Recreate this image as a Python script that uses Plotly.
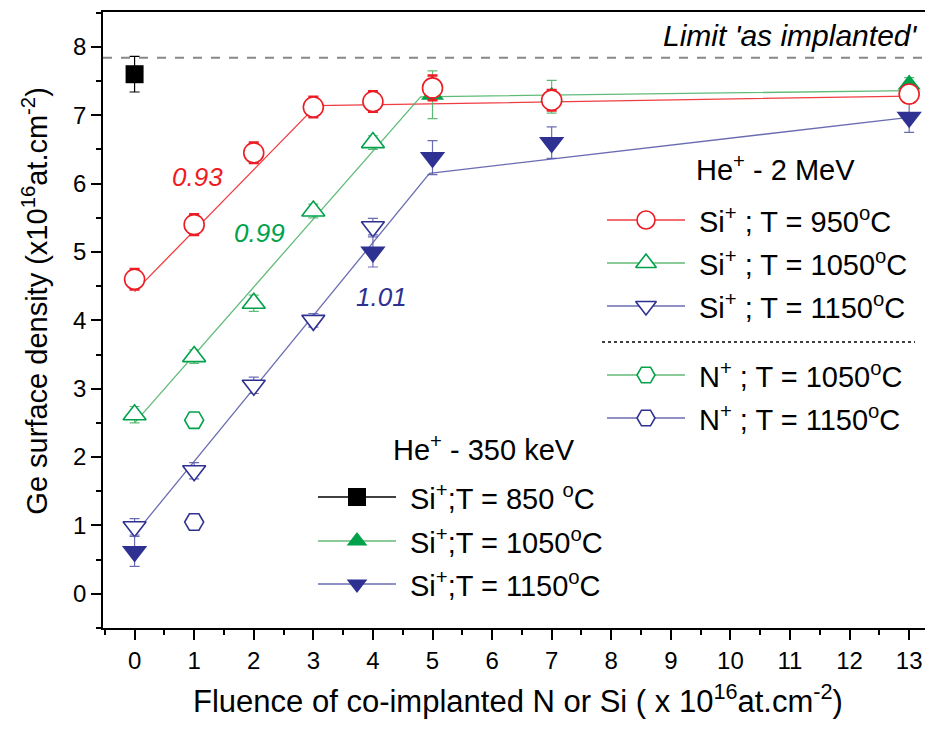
import plotly.graph_objects as go

RED = '#ED1C24'
GREEN = '#00A14B'
BLUE = '#2E3192'
RED_LINE = 'rgba(237, 40, 45, 0.9)'
GREEN_LINE = 'rgba(80, 180, 105, 0.9)'
BLUE_LINE = 'rgba(90, 92, 170, 0.9)'
FONT = 'Liberation Sans, Arial, sans-serif'

# He+ 2 MeV series
x_si950 = [0, 1, 2, 3, 4, 5, 7, 13]
y_si950 = [4.6, 5.4, 6.45, 7.12, 7.2, 7.4, 7.22, 7.31]
e_si950 = [0.15, 0.15, 0.15, 0.15, 0.15, 0.18, 0.15, 0.12]

x_si1050 = [0, 1, 2, 3, 4]
y_si1050 = [2.62, 3.47, 4.25, 5.6, 6.6]
e_si1050 = [0.12, 0.1, 0.12, 0.1, 0.1]

x_si1150 = [0, 1, 2, 3, 4]
y_si1150 = [0.98, 1.8, 3.05, 4.0, 5.37]
e_si1150 = [0.12, 0.12, 0.12, 0.1, 0.12]

x_n1050 = [1]
y_n1050 = [2.54]
x_n1150 = [1]
y_n1150 = [1.05]

# He+ 350 keV series
x_k850 = [0]
y_k850 = [7.6]
e_k850 = [0.26]

x_k1050 = [5, 7, 13]
y_k1050 = [7.3, 7.27, 7.45]
e_k1050 = [0.35, 0.24, 0.1]

x_k1150 = [0, 4, 5, 7, 13]
y_k1150 = [0.62, 5.0, 6.38, 6.6, 6.97]
e_k1150 = [0.22, 0.22, 0.25, 0.23, 0.22]

# linear fits drawn through the data
fit_red_x = [0, 3.05, 13]
fit_red_y = [4.42, 7.14, 7.28]
fit_green_x = [0, 4.8, 13]
fit_green_y = [2.5, 7.27, 7.36]
fit_blue_x = [0, 4.95, 13]
fit_blue_y = [0.87, 6.15, 6.97]

slope_labels = ['0.93', '0.99', '1.01']
slope_x = [1.05, 2.1, 4.15]
slope_y = [6.09, 5.28, 4.34]

LIMIT = 7.84
x_ticks = list(range(0, 14))
y_ticks = list(range(0, 9))

fig = go.Figure()

for fx, fy, c in [(fit_red_x, fit_red_y, RED_LINE),
                  (fit_green_x, fit_green_y, GREEN_LINE),
                  (fit_blue_x, fit_blue_y, BLUE_LINE)]:
    fig.add_trace(go.Scatter(x=fx, y=fy, mode='lines',
                             line=dict(color=c, width=1.3), hoverinfo='skip'))


def points(x, y, err, color, symbol, filled, size, ecolor=None, ethick=1.2):
    return go.Scatter(
        x=x, y=y, mode='markers',
        error_y=dict(type='data', array=err, visible=err is not None,
                     color=ecolor or color, thickness=ethick, width=5),
        marker=dict(symbol=symbol, size=size,
                    color=color if filled else 'white',
                    line=dict(color=color, width=1.6 if not filled else 0)),
    )


fig.add_trace(points(x_k850, y_k850, e_k850, 'black', 'square', True, 18))
fig.add_trace(points(x_n1050, y_n1050, None, GREEN, 'hexagon2', False, 19))
fig.add_trace(points(x_n1150, y_n1150, None, BLUE, 'hexagon2', False, 19))
fig.add_trace(points(x_k1050, y_k1050, e_k1050, GREEN, 'triangle-up', True, 20, GREEN_LINE))
fig.add_trace(points(x_si1050, y_si1050, e_si1050, GREEN, 'triangle-up', False, 20, GREEN_LINE))
fig.add_trace(points(x_si1150, y_si1150, e_si1150, BLUE, 'triangle-down', False, 20, BLUE_LINE))
fig.add_trace(points(x_k1150, y_k1150, e_k1150, BLUE, 'triangle-down', True, 22, BLUE_LINE))
fig.add_trace(points(x_si950, y_si950, e_si950, RED, 'circle', False, 20, RED, 2.5))

# legends drawn on a page-pixel overlay axis (x2/y2)
legend_2mev = [
    ('Si<sup>+</sup> ; T = 950<sup>o</sup>C', RED, RED_LINE, 'circle', False),
    ('Si<sup>+</sup> ; T = 1050<sup>o</sup>C', GREEN, GREEN_LINE, 'triangle-up', False),
    ('Si<sup>+</sup> ; T = 1150<sup>o</sup>C', BLUE, BLUE_LINE, 'triangle-down', False),
    ('N<sup>+</sup> ; T = 1050<sup>o</sup>C', GREEN, GREEN_LINE, 'hexagon2', False),
    ('N<sup>+</sup> ; T = 1150<sup>o</sup>C', BLUE, BLUE_LINE, 'hexagon2', False),
]
legend_350 = [
    ('Si<sup>+</sup>;T = 850 <sup>o</sup>C', 'black', 'black', 'square', True),
    ('Si<sup>+</sup>;T = 1050<sup>o</sup>C', GREEN, GREEN_LINE, 'triangle-up', True),
    ('Si<sup>+</sup>;T = 1150<sup>o</sup>C', BLUE, BLUE_LINE, 'triangle-down', True),
]


def draw_legend(entries, x0, rows, title, title_x, title_y):
    fig.add_annotation(x=title_x, y=title_y, xref='x2', yref='y2', text=title,
                       showarrow=False, font=dict(size=29, color='black'))
    for (label, mc, lc, sym, filled), ry in zip(entries, rows):
        fig.add_trace(go.Scatter(x=[x0, x0 + 78], y=[ry, ry], xaxis='x2', yaxis='y2',
                                 mode='lines', line=dict(color=lc, width=1.5),
                                 hoverinfo='skip'))
        fig.add_trace(go.Scatter(x=[x0 + 39], y=[ry], xaxis='x2', yaxis='y2',
                                 mode='markers', hoverinfo='skip',
                                 marker=dict(symbol=sym, size=18,
                                             color=mc if filled else 'white',
                                             line=dict(color=mc, width=0 if filled else 1.6))))
        fig.add_annotation(x=x0 + 90, y=ry, xref='x2', yref='y2', text=label,
                           xanchor='left', showarrow=False,
                           font=dict(size=29, color='black'))


draw_legend(legend_2mev, 607, [220, 263, 306, 375, 418], 'He<sup>+</sup> - 2 MeV', 775, 168)
draw_legend(legend_350, 318, [497, 541, 584], 'He<sup>+</sup> - 350 keV', 484, 448)
fig.add_shape(type='line', xref='x2', yref='y2', x0=602, x1=915, y0=342, y1=342,
              line=dict(color='black', width=1.5, dash='dot'))

# limit line
fig.add_shape(type='line', xref='paper', yref='y', x0=0, x1=1, y0=LIMIT, y1=LIMIT,
              line=dict(color='#888888', width=2, dash='dash'))
fig.add_annotation(x=790, y=35, xref='x2', yref='y2',
                   text="<i>Limit 'as implanted'</i>", showarrow=False,
                   font=dict(size=30, color='black'))

for txt, sx, sy, c in zip(slope_labels, slope_x, slope_y, [RED, GREEN, BLUE]):
    fig.add_annotation(x=sx, y=sy, text='<i>' + txt + '</i>', showarrow=False,
                       font=dict(size=26, color=c))

# y title placed as a paper annotation (sits above the plot centre in the reference)
fig.add_annotation(x=-0.083, y=0.53, xref='paper', yref='paper', textangle=-90,
                   xanchor='center', yanchor='middle', showarrow=False,
                   text='Ge surface density (x10<sup>16</sup>at.cm<sup>-2</sup>)',
                   font=dict(size=29, color='black'))

axis_common = dict(showgrid=False, zeroline=False, showline=True, linecolor='black',
                   linewidth=1.5, ticks='outside', tickcolor='black', tickwidth=1.5,
                   tickfont=dict(size=24, color='black'), automargin=False)

# page body has an 8px margin, so the figure is 8px smaller than the window
fig.update_layout(
    width=925, height=723,
    margin=dict(l=95, r=0, t=4, b=103),
    plot_bgcolor='white', paper_bgcolor='white',
    font=dict(family=FONT, color='black'),
    showlegend=False,
    xaxis=dict(range=[-0.53, 13.4], tickvals=x_ticks, ticklen=10, mirror=True,
               minor=dict(dtick=0.5, tick0=0, ticks='outside', ticklen=5, tickcolor='black'),
               title=dict(text='Fluence of co-implanted N or Si ( x 10<sup>16</sup>at.cm<sup>-2</sup>)',
                          font=dict(size=31), standoff=18),
               **axis_common),
    yaxis=dict(range=[-0.5, 8.51], tickvals=y_ticks, ticklen=10,
               minor=dict(dtick=0.5, tick0=0, ticks='outside', ticklen=5, tickcolor='black'),
               **axis_common),
    xaxis2=dict(overlaying='x', range=[103, 933], visible=False, fixedrange=True),
    yaxis2=dict(overlaying='y', range=[628, 12], visible=False, fixedrange=True),
)

fig.write_html('out.html')
